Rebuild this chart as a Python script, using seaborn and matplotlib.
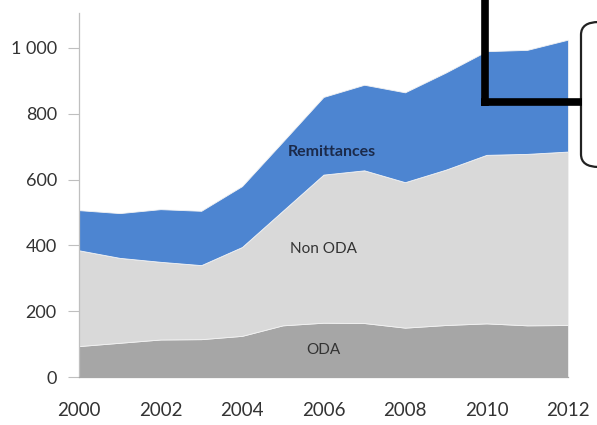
import matplotlib
matplotlib.use("Agg")
import matplotlib.pyplot as plt
from matplotlib.lines import Line2D
from matplotlib.patches import FancyBboxPatch
import seaborn as sns

# Flows by year (stacked): ODA at the bottom, then Non ODA, then Remittances
years = [2000, 2001, 2002, 2003, 2004, 2005, 2006, 2007, 2008, 2009, 2010, 2011, 2012]
oda = [94, 104, 114, 115, 125, 157, 165, 164, 150, 158, 163, 157, 158]
non_oda = [291, 258, 236, 225, 270, 348, 450, 464, 442, 472, 512, 521, 527]
remittances = [122, 136, 160, 165, 185, 210, 236, 260, 273, 295, 315, 316, 340]

series_names = ["ODA", "Non ODA", "Remittances"]
series_colors = ["#A6A6A6", "#D9D9D9", "#4D85D1"]

y_ticks = [0, 200, 400, 600, 800, 1000]
y_tick_labels = ["0", "200", "400", "600", "800", "1 000"]
x_ticks = [2000, 2002, 2004, 2006, 2008, 2010, 2012]

sns.set_style("white")
plt.rcParams["font.family"] = ["Lato", "DejaVu Sans"]

fig = plt.figure(figsize=(5.97, 4.25), dpi=100)
ax = fig.add_axes([0.1323, 0.1129, 0.8191, 0.8565])

ax.stackplot(years, oda, non_oda, remittances,
             colors=series_colors, labels=series_names,
             edgecolor="#F2F2F2", linewidth=0.6)

ax.set_xlim(2000, 2012)
ax.set_ylim(0, 1106)

ax.set_yticks(y_ticks)
ax.set_yticklabels(y_tick_labels)
ax.set_xticks(x_ticks)
ax.set_xticklabels([str(y) for y in x_ticks])

ax.tick_params(axis="y", which="both", left=True, length=8, width=0.8,
               color="#BFBFBF", pad=8, labelsize=13, labelcolor="#333333")
ax.tick_params(axis="x", which="both", bottom=False, length=0, pad=18,
               labelsize=13.5, labelcolor="#333333")

for side in ["top", "right"]:
    ax.spines[side].set_visible(False)
ax.spines["left"].set_color("#BFBFBF")
ax.spines["left"].set_linewidth(0.9)
ax.spines["bottom"].set_color("#A6A6A6")
ax.spines["bottom"].set_linewidth(0.9)

# Labels inside the stacked areas
ax.text(2006.2, 685, "Remittances", ha="center", va="center",
        fontsize=11.5, fontweight="bold", color="#1B2A4A")
ax.text(2006.0, 389, "Non ODA", ha="center", va="center",
        fontsize=11, color="#333333")
ax.text(2006.0, 82, "ODA", ha="center", va="center",
        fontsize=11, color="#333333")

# Callout frame on the upper right
W, H = 597.0, 425.0
fig.add_artist(Line2D([484.5 / W, 484.5 / W], [1.0, 1 - 106 / H],
                      transform=fig.transFigure, color="black",
                      linewidth=5.5, solid_capstyle="butt"))
fig.add_artist(Line2D([481 / W, 582 / W], [1 - 102 / H, 1 - 102 / H],
                      transform=fig.transFigure, color="black",
                      linewidth=5.5, solid_capstyle="butt"))
box = FancyBboxPatch((581 / W, 1 - 167 / H), 60 / W, 145 / H,
                     boxstyle="round,pad=0,rounding_size=0.03",
                     transform=fig.transFigure, facecolor="white",
                     edgecolor="#222222", linewidth=1.6)
fig.add_artist(box)

fig.savefig("out.png", dpi=100)
